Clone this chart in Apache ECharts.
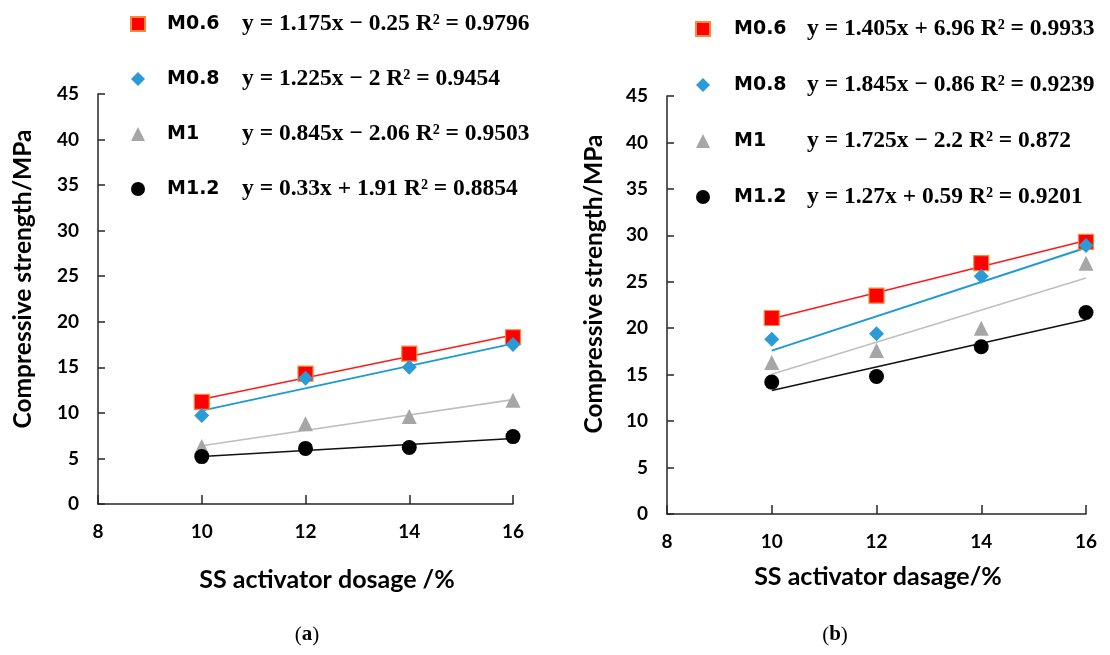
<!DOCTYPE html>
<html>
<head>
<meta charset="utf-8">
<script src="https://cdn.jsdelivr.net/npm/echarts@6/dist/echarts.min.js"></script>
<style>
  html, body { margin: 0; padding: 0; background: #fff; }
  #chart { width: 1110px; height: 655px; }
</style>
</head>
<body>
<div id="chart"></div>
<script>
// SS activator dosage (%) for each mix
const dosage = [10, 12, 14, 16];
const mixNames = ['M0.6', 'M0.8', 'M1', 'M1.2'];

// (a) compressive strength, MPa
const strengthA06 = [11.2, 14.3, 16.5, 18.3];
const strengthA08 = [9.7, 13.8, 15.0, 17.5];
const strengthA10 = [6.3, 8.8, 9.6, 11.4];
const strengthA12 = [5.2, 6.1, 6.2, 7.4];

// (b) compressive strength, MPa
const strengthB06 = [21.1, 23.5, 27.0, 29.3];
const strengthB08 = [18.8, 19.4, 25.6, 28.9];
const strengthB10 = [16.3, 17.6, 20.0, 27.0];
const strengthB12 = [14.2, 14.8, 18.0, 21.7];

// linear fits y = k x + b with R²
const slopeA = [1.175, 1.225, 0.845, 0.33];
const interceptA = [-0.25, -2, -2.06, 1.91];
const r2A = [0.9796, 0.9454, 0.9503, 0.8854];
const slopeB = [1.405, 1.845, 1.725, 1.27];
const interceptB = [6.96, -0.86, -2.2, 0.59];
const r2B = [0.9933, 0.9239, 0.872, 0.9201];

const xTicks = [8, 10, 12, 14, 16];
const yTicks = [0, 5, 10, 15, 20, 25, 30, 35, 40, 45];

const strengthA = [strengthA06, strengthA08, strengthA10, strengthA12];
const strengthB = [strengthB06, strengthB08, strengthB10, strengthB12];

const symbols = ['rect', 'diamond', 'triangle', 'circle'];
const markerStyles = [
  { color: '#FF0000', borderColor: '#F9883A', borderWidth: 1.2, opacity: 1 },
  { color: '#2B9BD8', opacity: 1 },
  { color: '#A6A6A6', opacity: 1 },
  { color: '#000000', opacity: 1 }
];
const symbolSizes = [15, 15, 15, 15];
const fitColors = ['#FF1A1A', '#1E9AD6', '#BFBFBF', '#111111'];
const fitWidths = [1.6, 2, 1.6, 1.6];

function equation(k, b, r2) {
  const sign = b < 0 ? '\u2212' : '+';
  return 'y = ' + k + 'x ' + sign + ' ' + Math.abs(b) + ' R\u00B2 = ' + r2;
}

const axisColor = '#262626';
const tickFont = { fontFamily: 'Lato', fontWeight: 'bold', fontSize: 19, color: '#000' };

function makeX(gi) {
  return {
    gridIndex: gi, type: 'value', min: xTicks[0], max: xTicks[xTicks.length - 1], interval: 2,
    axisLine: { show: true, lineStyle: { color: axisColor, width: 1.5 } },
    axisTick: { show: true, inside: true, length: 9, lineStyle: { color: axisColor, width: 1.5 } },
    axisLabel: Object.assign({ margin: 18 }, tickFont),
    splitLine: { show: false }
  };
}
function makeY(gi) {
  return {
    gridIndex: gi, type: 'value', min: yTicks[0], max: yTicks[yTicks.length - 1], interval: 5,
    axisLine: { show: true, lineStyle: { color: axisColor, width: 1.5 } },
    axisTick: { show: true, inside: true, length: 7, lineStyle: { color: axisColor, width: 1.5 } },
    axisLabel: Object.assign({ margin: 19 }, tickFont),
    splitLine: { show: false }
  };
}

const series = [];
function addPanel(gi, values, slopes, intercepts) {
  mixNames.forEach((name, i) => {
    const x0 = dosage[0], x1 = dosage[dosage.length - 1];
    series.push({
      name: name + ' fit ' + gi, type: 'line', xAxisIndex: gi, yAxisIndex: gi,
      data: [[x0, slopes[i] * x0 + intercepts[i]], [x1, slopes[i] * x1 + intercepts[i]]],
      showSymbol: false, symbol: 'none', silent: true, z: 2,
      lineStyle: { color: fitColors[i], width: fitWidths[i] }
    });
  });
  mixNames.forEach((name, i) => {
    series.push({
      name: name, type: 'scatter', xAxisIndex: gi, yAxisIndex: gi,
      data: dosage.map((d, j) => [d, values[i][j]]),
      symbol: symbols[i], symbolSize: symbolSizes[i], z: 3,
      itemStyle: markerStyles[i]
    });
  });
}
addPanel(0, strengthA, slopeA, interceptA);
addPanel(1, strengthB, slopeB, interceptB);

function makeLegend(left, top, gap, padLeft, nameWidth, eqs) {
  return {
    orient: 'vertical', left: left, top: top, itemWidth: 14, itemHeight: 14, itemGap: gap,
    selectedMode: false, data: mixNames,
    formatter: name => '{n|' + name + '}{e|' + eqs[mixNames.indexOf(name)] + '}',
    textStyle: {
      rich: {
        n: { fontFamily: 'DejaVu Sans', fontWeight: 'bold', fontSize: 19, color: '#000',
             width: nameWidth, padding: [0, 0, 0, padLeft], lineHeight: 24 },
        e: { fontFamily: 'Liberation Serif', fontWeight: 'bold', fontSize: 23.5, color: '#000', lineHeight: 24 }
      }
    }
  };
}
const eqA = mixNames.map((_, i) => equation(slopeA[i], interceptA[i], r2A[i]));
const eqB = mixNames.map((_, i) => equation(slopeB[i], interceptB[i], r2B[i]));

const titleFont = { fontFamily: 'Lato', fontWeight: 'bold', fill: '#000' };

const option = {
  animation: false,
  backgroundColor: '#ffffff',
  grid: [
    { left: 98, top: 94, width: 415, height: 410 },
    { left: 667, top: 96, width: 419, height: 418 }
  ],
  xAxis: [makeX(0), makeX(1)],
  yAxis: [makeY(0), makeY(1)],
  legend: [
    makeLegend(125, 7, 31, 17, 75, eqA),
    makeLegend(690, 12, 32, 19, 73, eqB)
  ],
  series: series,
  graphic: [
    { type: 'text', x: 23, y: 279, rotation: Math.PI / 2,
      style: Object.assign({ text: 'Compressive strength/MPa', fontSize: 24.5, align: 'center', verticalAlign: 'middle' }, titleFont) },
    { type: 'text', x: 594, y: 284, rotation: Math.PI / 2,
      style: Object.assign({ text: 'Compressive strength/MPa', fontSize: 24.5, align: 'center', verticalAlign: 'middle' }, titleFont) },
    { type: 'text', x: 327, y: 580,
      style: Object.assign({ text: 'SS activator dosage /%', fontSize: 25, align: 'center', verticalAlign: 'middle' }, titleFont) },
    { type: 'text', x: 878, y: 577,
      style: Object.assign({ text: 'SS activator dasage/%', fontSize: 25, align: 'center', verticalAlign: 'middle' }, titleFont) },
    { type: 'text', x: 307, y: 635,
      style: { text: '{p|(}{b|a}{p|)}', align: 'center', verticalAlign: 'middle',
        rich: { p: { fontFamily: 'Liberation Serif', fontSize: 21, fill: '#000' },
                b: { fontFamily: 'Liberation Serif', fontSize: 21, fontWeight: 'bold', fill: '#000' } } } },
    { type: 'text', x: 835, y: 635,
      style: { text: '{p|(}{b|b}{p|)}', align: 'center', verticalAlign: 'middle',
        rich: { p: { fontFamily: 'Liberation Serif', fontSize: 21, fill: '#000' },
                b: { fontFamily: 'Liberation Serif', fontSize: 21, fontWeight: 'bold', fill: '#000' } } } }
  ]
};

const chart = echarts.init(document.getElementById('chart'), null, { renderer: 'canvas' });
chart.setOption(option);
</script>
</body>
</html>
